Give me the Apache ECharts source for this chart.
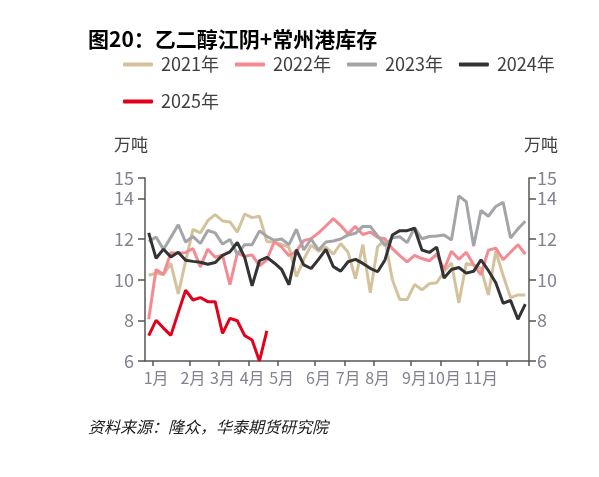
<!DOCTYPE html>
<html>
<head>
<meta charset="utf-8">
<script src="https://cdn.jsdelivr.net/npm/echarts@6/dist/echarts.min.js"></script>
<style>
html,body{margin:0;padding:0;background:#fff;}
#c{width:599px;height:477px;}
</style>
</head>
<body>
<div id="c"></div>
<script>
// ---- data ----
const seriesNames = ['2021年', '2022年', '2023年', '2024年', '2025年'];
const tickWeeks = [1, 6, 10, 14, 18, 23, 27, 31, 36, 40, 45, 49];
const monthLabels = ['1月', '2月', '3月', '4月', '5月', '6月', '7月', '8月', '9月', '10月', '11月'];
const weekCount = 52;

const y2021 = [10.22, 10.32, 10.25, 10.8, 9.3, 10.9, 12.47, 12.3, 12.9, 13.2, 12.89, 12.84, 12.34,
  13.23, 13.05, 13.12, 11.88, 11.85, 11.73, 11.6, 10.15, 11.0, 11.7, 11.4, 11.6, 11.25,
  11.78, 11.35, 10.05, 11.72, 9.35, 11.62, 11.95, 10.0, 9.02, 9.02, 9.76, 9.5, 9.8,
  9.85, 10.4, 10.82, 8.85, 10.8, 10.72, 10.55, 9.25, 11.4, 10.2, 9.12, 9.25, 9.25];
const y2022 = [8.05, 10.5, 10.25, 11.32, 11.3, 11.33, 11.53, 10.63, 11.5, 11.1, 11.2, 9.75, 11.3,
  11.15, 11.22, 10.68, 10.98, 11.86, 11.6, 11.18, 11.4, 11.92, 12.02, 12.3, 12.64, 13.0,
  12.66, 12.25, 12.62, 12.22, 12.34, 12.08, 12.01, 11.53, 11.18, 10.87, 11.2, 11.04, 10.93,
  11.25, 10.5, 11.4, 11.0, 11.35, 10.74, 10.24, 11.45, 11.55, 10.98, 11.35, 11.72, 11.25];
const y2023 = [11.88, 12.1, 11.49, 12.08, 12.7, 11.85, 12.12, 11.78, 12.42, 12.3, 11.75, 11.98, 11.25,
  11.72, 11.72, 12.4, 12.13, 11.94, 12.0, 11.72, 12.48, 11.46, 12.0, 11.46, 11.85, 11.9,
  12.0, 12.2, 12.28, 12.62, 12.62, 12.15, 11.68, 12.06, 12.11, 11.82, 12.56, 12.01, 12.12,
  12.15, 12.2, 11.95, 14.12, 13.83, 11.65, 13.4, 13.12, 13.6, 13.8, 12.05, 12.5, 12.87];
const y2024 = [12.3, 11.05, 11.5, 11.12, 11.35, 10.95, 10.9, 10.86, 10.76, 10.84, 11.2, 11.37, 11.83,
  11.1, 9.7, 10.93, 11.1, 10.82, 10.5, 9.75, 11.47, 10.73, 10.55, 11.0, 11.49, 10.64,
  10.42, 10.88, 11.0, 10.8, 10.56, 10.39, 10.97, 12.2, 12.41, 12.41, 12.53, 11.46, 11.34,
  11.6, 10.08, 10.5, 10.6, 10.32, 10.41, 10.98, 10.45, 9.85, 8.84, 8.98, 8.05, 8.8];
const y2025 = [7.25, 8.0, 7.62, 7.26, 8.38, 9.48, 9.0, 9.12, 8.92, 8.92, 7.36, 8.1, 7.98,
  7.25, 7.03, 6.0, 7.48];
const yTicks = { min: 6, max: 15, interval: 2 };

const colors = ['#d4c29c', '#f48a92', '#a3a5a8', '#333333', '#e2001a'];
const FONT = '"Noto Sans CJK SC", "Noto Sans", sans-serif';

const categories = [];
for (let i = 0; i < weekCount; i++) categories.push('W' + (i + 1));

const chart = echarts.init(document.getElementById('c'), null, { renderer: 'canvas' });

const yAxisCommon = {
  type: 'value',
  min: yTicks.min, max: yTicks.max, interval: yTicks.interval,
  splitLine: { show: false },
  axisLine: { show: true, lineStyle: { color: '#555555', width: 1.5 } },
  axisTick: { show: true, length: 7, lineStyle: { color: '#555555', width: 1.5 } },
  axisLabel: { fontSize: 18, color: '#828290', fontFamily: FONT },
  nameLocation: 'end',
  nameGap: 25
};

const dataSets = [y2021, y2022, y2023, y2024, y2025];

chart.setOption({
  animation: false,
  backgroundColor: '#ffffff',
  color: colors,
  textStyle: { fontFamily: FONT },
  title: [{
    text: '图20：乙二醇江阴+常州港库存',
    left: 88, top: 29, padding: 0,
    textStyle: { fontSize: 21, fontWeight: 'bold', color: '#000000', fontFamily: FONT }
  }, {
    text: '资料来源：隆众，华泰期货研究院',
    left: 88, top: 419, padding: 0,
    textStyle: { fontSize: 16, fontStyle: 'italic', fontWeight: 'normal', color: '#1a1a1a', fontFamily: FONT }
  }],
  legend: {
    left: 123, top: 54, width: 455, padding: 0,
    itemWidth: 30, itemHeight: 4, itemGap: 16,
    icon: 'roundRect',
    textStyle: { fontSize: 18, lineHeight: 21, color: '#404040', fontFamily: FONT, padding: [0, 0, 0, 3] },
    data: seriesNames
  },
  grid: { left: 145, right: 70, top: 178, bottom: 116, containLabel: false },
  xAxis: {
    type: 'category',
    data: categories,
    boundaryGap: true,
    axisLine: { show: true, lineStyle: { color: '#555555', width: 1.5 } },
    axisTick: {
      show: true, length: 5, alignWithLabel: false,
      interval: (idx) => tickWeeks.indexOf(idx) >= 0,
      lineStyle: { color: '#555555', width: 1.5 }
    },
    axisLabel: {
      fontSize: 16, color: '#828290', fontFamily: FONT, margin: 9,
      interval: (idx) => { const k = tickWeeks.indexOf(idx); return k >= 0 && k < monthLabels.length; },
      formatter: (val, idx) => { const k = tickWeeks.indexOf(idx); return k >= 0 && k < monthLabels.length ? monthLabels[k] : ''; }
    },
    splitLine: { show: false }
  },
  yAxis: [
    Object.assign({}, yAxisCommon, {
      position: 'left', name: '万吨',
      axisLabel: Object.assign({}, yAxisCommon.axisLabel, { margin: 11 }),
      nameTextStyle: { fontSize: 17, color: '#404040', fontFamily: FONT, align: 'center', padding: [0, 28, 0, 0] }
    }),
    Object.assign({}, yAxisCommon, {
      position: 'right', name: '万吨',
      axisLabel: Object.assign({}, yAxisCommon.axisLabel, { margin: 8 }),
      nameTextStyle: { fontSize: 17, color: '#404040', fontFamily: FONT, align: 'center', padding: [0, 0, 0, 24] }
    })
  ],
  series: seriesNames.map((name, k) => ({
    name: name,
    type: 'line',
    yAxisIndex: 0,
    data: dataSets[k],
    showSymbol: false,
    symbol: 'none',
    lineStyle: { width: 3, color: colors[k] },
    itemStyle: { color: colors[k] },
    z: 2 + k
  }))
});
</script>
</body>
</html>
